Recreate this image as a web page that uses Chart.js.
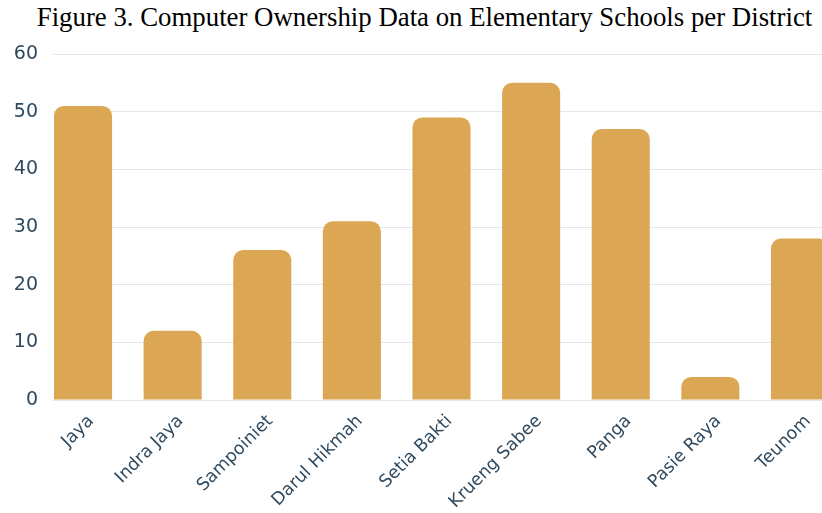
<!DOCTYPE html>
<html>
<head>
<meta charset="utf-8">
<script src="https://cdn.jsdelivr.net/npm/chart.js@4.4.1/dist/chart.umd.min.js"></script>
<style>
  html, body { margin: 0; padding: 0; width: 822px; height: 513px; overflow: hidden; background: #fff; }
  #caption {
    position: absolute; left: 0; top: 2px; width: 849px; text-align: center; white-space: nowrap;
    font-family: "Liberation Serif", "Times New Roman", serif; font-size: 26.8px; line-height: 30px; color: #000;
  }
  #wrap { position: absolute; left: 0; top: 40px; width: 830px; height: 473px; }
</style>
</head>
<body>
<div id="caption">Figure 3. Computer Ownership Data on Elementary Schools per District</div>
<div id="wrap"><canvas id="chart"></canvas></div>
<script>
// districts and computers owned by elementary schools
const districts = ['Jaya', 'Indra Jaya', 'Sampoiniet', 'Darul Hikmah', 'Setia Bakti', 'Krueng Sabee', 'Panga', 'Pasie Raya', 'Teunom'];
const computers = [51, 12, 26, 31, 49, 55, 47, 4, 28];
const yTicks = [0, 10, 20, 30, 40, 50, 60];

const barColor = '#DCA754';
const tickColor = '#2F4A5F';
const gridColor = '#E4E7EA';

const points = districts.map((d, i) => ({ x: i, y: computers[i] }));

new Chart(document.getElementById('chart'), {
    type: 'bar',
    data: {
        datasets: [{
            label: 'Computers',
            data: points,
            backgroundColor: barColor,
            borderWidth: 0,
            borderRadius: 10,
            categoryPercentage: 1,
            barPercentage: 0.648
        }]
    },
    options: {
        responsive: true,
        maintainAspectRatio: false,
        animation: false,
        layout: { padding: { top: 14, right: 0, left: 0, bottom: 0 } },
        plugins: { legend: { display: false }, tooltip: { enabled: false } },
        scales: {
            x: {
                type: 'linear',
                offset: false,
                min: -0.335,
                max: districts.length - 1 + 0.335,
                grid: { display: false },
                border: { display: true, color: gridColor },
                afterFit: (scale) => {
                    scale.height = 113;
                    scale.paddingLeft = 0;
                    scale.paddingRight = 0;
                },
                ticks: {
                    stepSize: 1,
                    includeBounds: false,
                    autoSkip: false,
                    maxRotation: 45,
                    minRotation: 45,
                    padding: 3,
                    labelOffset: 8,
                    color: tickColor,
                    font: { family: 'DejaVu Sans', size: 17.5 },
                    callback: (v) => districts[v]
                }
            },
            y: {
                min: yTicks[0],
                max: yTicks[yTicks.length - 1],
                afterBuildTicks: (scale) => { scale.ticks = yTicks.map(v => ({ value: v })); },
                afterFit: (scale) => {
                    scale.width = 53;
                    scale.paddingTop = 0;
                    scale.paddingBottom = 0;
                },
                grid: { color: gridColor, drawTicks: false },
                border: { display: false },
                ticks: {
                    padding: 15,
                    color: tickColor,
                    font: { family: 'DejaVu Sans', size: 19 }
                }
            }
        }
    }
});
</script>
</body>
</html>
